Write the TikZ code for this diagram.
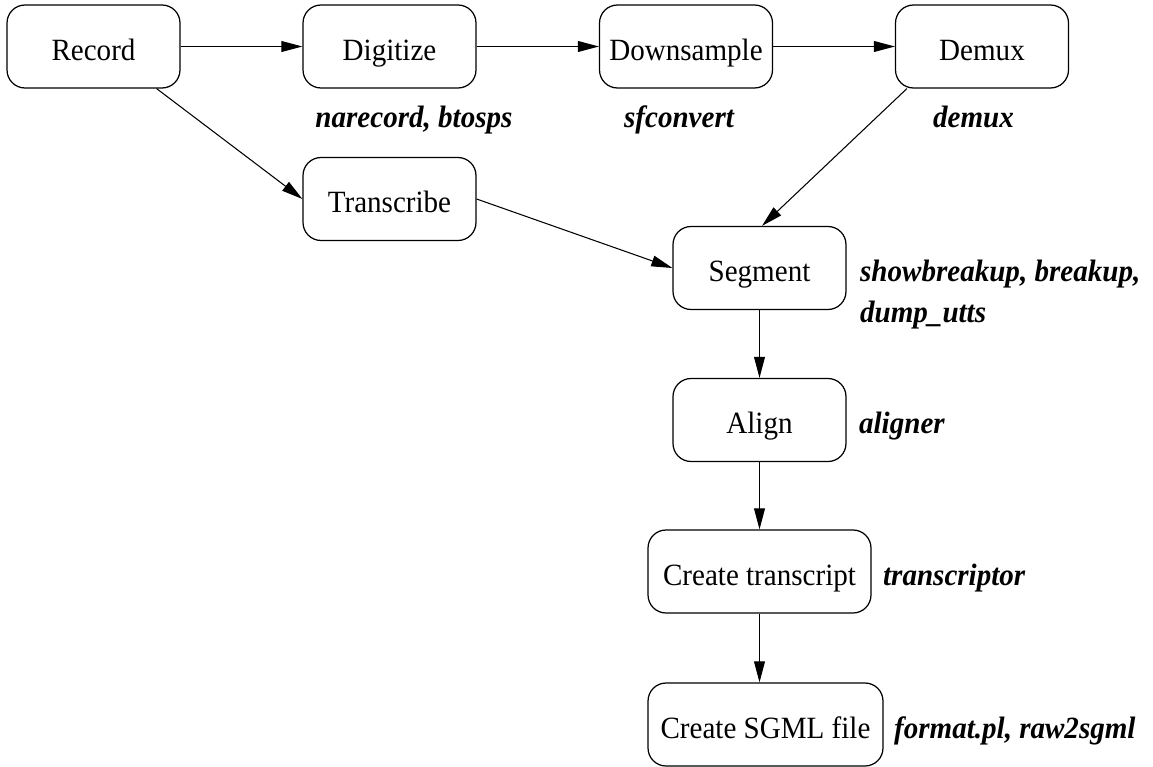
\documentclass[tikz,border=0pt]{standalone}
\usepackage{fontspec}
\setmainfont{Liberation Serif}[FakeStretch=0.94]
\usetikzlibrary{arrows.meta,positioning}
\tikzset{
    stage/.style={
        draw, rectangle, rounded corners=0.36cm,
        line width=0.7pt, minimum width=3.46cm,
        minimum height=1.66cm, inner sep=2pt,
        text height=19.9pt, text depth=4pt,
        font=\fontsize{17.6}{21}\selectfont
    },
    tool/.style={
        inner sep=0pt,
        font=\fontsize{17.6}{23}\selectfont\bfseries\itshape
    }
}

\begin{document}
\begin{tikzpicture}[
        x=0.02cm, y=-0.02cm,
        ->, >={Triangle[length=12pt,width=6.2pt]}, line width=0.6pt
      ]
    \useasboundingbox (0,0) rectangle (1153,767);

    \node[stage] (record)     at (93.5,46.5)  {Record};
    \node[stage] (digitize)   at (389.5,46.5) {Digitize};
    \node[stage] (downsample) at (686,46.5)   {Downsample};
    \node[stage] (demux)      at (982,46.5)   {Demux};
    \node[stage] (transcribe) at (389.5,199)  {Transcribe};
    \node[stage] (segment)    at (759.5,268)  {Segment};
    \node[stage] (align)      at (759.5,420)  {Align};
    \node[stage, minimum width=4.46cm] (transcript) at (759.5,571.5) {Create transcript};
    \node[stage, minimum width=4.7cm]  (sgml)       at (765.5,724.5) {Create SGML file};

    % programs used at each step
    \node[tool, anchor=base] (digitizeTool)   at (414,128) {narecord, btosps};
    \node[tool, anchor=base] (downsampleTool) at (679,128) {sfconvert};
    \node[tool, anchor=base] (demuxTool)      at (973.5,128) {demux};
    \node[tool, anchor=base west] (segmentTool) at ([xshift=0.26cm]segment.base east)
        {\begin{tabular}[t]{@{}l@{}}showbreakup, breakup,\\dump\_utts\end{tabular}};
    \node[tool, anchor=base west] (alignTool) at ([xshift=0.24cm]align.base east) {aligner};
    \node[tool, anchor=base west] (transcriptTool) at ([xshift=0.22cm]transcript.base east) {transcriptor};
    \node[tool, anchor=base west] (sgmlTool) at ([xshift=0.2cm]sgml.base east) {format.pl, raw2sgml};

    \draw (record) -- (digitize);
    \draw (digitize) -- (downsample);
    \draw (downsample) -- (demux);
    \draw ([xshift=-0.48cm]record.south east) -- (transcribe.west);
    \draw (transcribe.east) -- (segment.west);
    \draw ([xshift=0.24cm]demux.south west) -- ([xshift=0.05cm]segment.north);
    \draw (segment) -- (align);
    \draw (align) -- (transcript);
    \draw (transcript.south) -- (transcript.south |- sgml.north);

\end{tikzpicture}
\end{document}
